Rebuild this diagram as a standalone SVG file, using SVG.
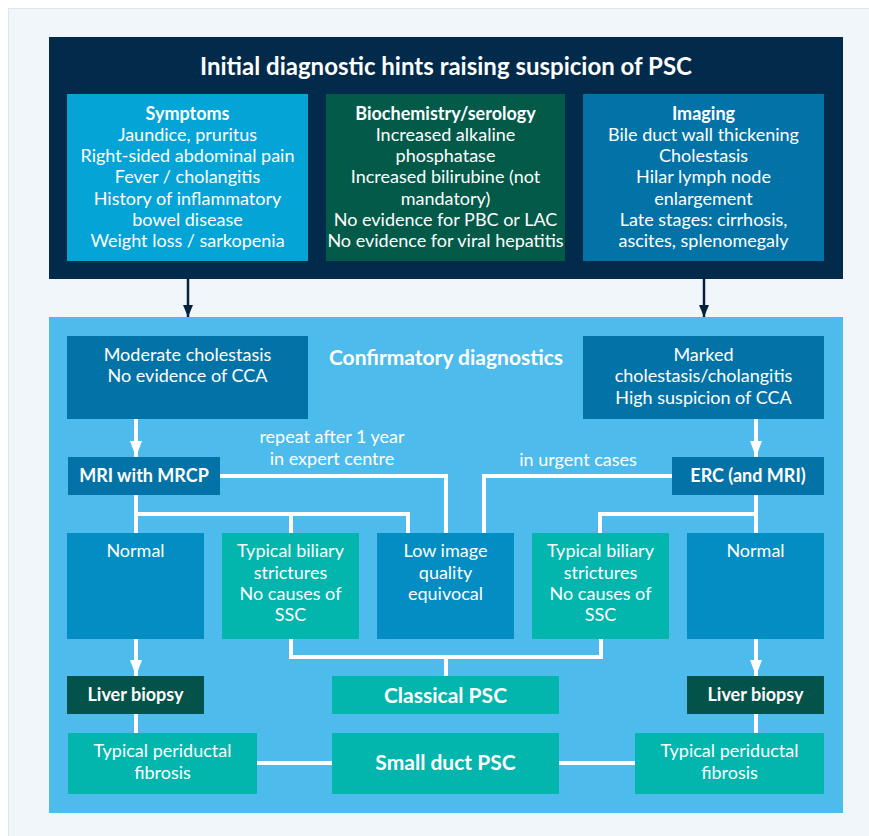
<svg xmlns="http://www.w3.org/2000/svg" width="869" height="836" viewBox="0 0 869 836">
<defs>
<style>
text{font-family:Lato,"Liberation Sans",sans-serif;fill:#fff;text-anchor:middle}
.t{font-size:18px}
.b{font-size:18px;font-weight:bold}
.h{font-size:21px;font-weight:bold}
.w{fill:none;stroke:#fff;stroke-width:4}
.n{fill:none;stroke:#04213f;stroke-width:2.5}
</style>
<marker id="aw" viewBox="0 0 16 12" refX="16" refY="6" markerWidth="16" markerHeight="12" markerUnits="userSpaceOnUse" orient="auto"><path d="M0,0L16,6L0,12z" fill="#fff"/></marker>
<marker id="an" viewBox="0 0 12 10" refX="12" refY="5" markerWidth="12" markerHeight="10" markerUnits="userSpaceOnUse" orient="auto"><path d="M0,0L12,5L0,10z" fill="#04213f"/></marker>
</defs>
<rect x="0" y="0" width="869" height="836" fill="#fff"/>
<rect x="8.5" y="8.5" width="870" height="840" fill="#f1f6fa" stroke="#dce6ef"/>
<g id="initial">
<rect x="49" y="37" width="794" height="242" fill="#022b4b"/>
<text x="446" y="75" style="font-size:24px;font-weight:bold">Initial diagnostic hints raising suspicion of PSC</text>
</g>
<g id="symptoms">
<rect x="67" y="94" width="241" height="167" fill="#04a4d7"/>
<text class="b" x="187.5" y="120">Symptoms</text>
<text class="t" x="187.5" y="141">Jaundice, pruritus</text>
<text class="t" x="187.5" y="162">Right-sided abdominal pain</text>
<text class="t" x="187.5" y="183">Fever / cholangitis</text>
<text class="t" x="187.5" y="205">History of inflammatory</text>
<text class="t" x="187.5" y="226">bowel disease</text>
<text class="t" x="187.5" y="247">Weight loss / sarkopenia</text>
</g>
<g id="biochem">
<rect x="326" y="94" width="239" height="167" fill="#035a49"/>
<text class="b" x="445.5" y="120">Biochemistry/serology</text>
<text class="t" x="445.5" y="141">Increased alkaline</text>
<text class="t" x="445.5" y="162">phosphatase</text>
<text class="t" x="445.5" y="183">Increased bilirubine (not</text>
<text class="t" x="445.5" y="205">mandatory)</text>
<text class="t" x="445.5" y="226">No evidence for PBC or LAC</text>
<text class="t" x="445.5" y="247">No evidence for viral hepatitis</text>
</g>
<g id="imaging">
<rect x="583" y="94" width="241" height="167" fill="#0373a7"/>
<text class="b" x="703.5" y="120">Imaging</text>
<text class="t" x="703.5" y="141">Bile duct wall thickening</text>
<text class="t" x="703.5" y="162">Cholestasis</text>
<text class="t" x="703.5" y="183">Hilar lymph node</text>
<text class="t" x="703.5" y="205">enlargement</text>
<text class="t" x="703.5" y="226">Late stages: cirrhosis,</text>
<text class="t" x="703.5" y="247">ascites, splenomegaly</text>
</g>
<g id="confirmatory">
<rect x="49" y="317" width="794" height="496" fill="#4dbbec"/>
<text class="h" x="446" y="365">Confirmatory diagnostics</text>
</g>
<g id="moderate">
<rect x="67" y="336" width="241" height="83" fill="#0373a7"/>
<text class="t" x="187.5" y="361">Moderate cholestasis</text>
<text class="t" x="187.5" y="382">No evidence of CCA</text>
</g>
<g id="marked">
<rect x="583" y="336" width="241" height="83" fill="#0373a7"/>
<text class="t" x="703.5" y="361">Marked</text>
<text class="t" x="703.5" y="382">cholestasis/cholangitis</text>
<text class="t" x="703.5" y="404">High suspicion of CCA</text>
</g>
<g id="mri">
<rect x="68" y="457" width="152" height="38" fill="#0373a7"/>
<text class="b" x="144" y="482">MRI with MRCP</text>
</g>
<g id="erc">
<rect x="672" y="457" width="152" height="38" fill="#0373a7"/>
<text class="b" x="748" y="482">ERC (and MRI)</text>
</g>
<g id="normal-left">
<rect x="67" y="533" width="137" height="106" fill="#038dc3"/>
<text class="t" x="135.5" y="557">Normal</text>
</g>
<g id="typical-left">
<rect x="222" y="533" width="137" height="106" fill="#02b6ad"/>
<text class="t" x="290.5" y="557">Typical biliary</text>
<text class="t" x="290.5" y="579">strictures</text>
<text class="t" x="290.5" y="600">No causes of</text>
<text class="t" x="290.5" y="621">SSC</text>
</g>
<g id="lowimage">
<rect x="377" y="533" width="137" height="106" fill="#038dc3"/>
<text class="t" x="445.5" y="557">Low image</text>
<text class="t" x="445.5" y="579">quality</text>
<text class="t" x="445.5" y="600">equivocal</text>
</g>
<g id="typical-right">
<rect x="532" y="533" width="137" height="106" fill="#02b6ad"/>
<text class="t" x="600.5" y="557">Typical biliary</text>
<text class="t" x="600.5" y="579">strictures</text>
<text class="t" x="600.5" y="600">No causes of</text>
<text class="t" x="600.5" y="621">SSC</text>
</g>
<g id="normal-right">
<rect x="687" y="533" width="137" height="106" fill="#038dc3"/>
<text class="t" x="755.5" y="557">Normal</text>
</g>
<g id="biopsy-left">
<rect x="67" y="676" width="137" height="38" fill="#03534a"/>
<text class="b" x="135.5" y="701">Liver biopsy</text>
</g>
<g id="biopsy-right">
<rect x="687" y="676" width="137" height="38" fill="#03534a"/>
<text class="b" x="755.5" y="701">Liver biopsy</text>
</g>
<g id="classical">
<rect x="332" y="676" width="227" height="38" fill="#02b6ad"/>
<text class="h" x="445.5" y="703">Classical PSC</text>
</g>
<g id="smallduct">
<rect x="332" y="733" width="227" height="61" fill="#02b6ad"/>
<text class="h" x="445.5" y="770">Small duct PSC</text>
</g>
<g id="periductal-left">
<rect x="68" y="733" width="189" height="61" fill="#02b6ad"/>
<text class="t" x="162.5" y="757">Typical periductal</text>
<text class="t" x="162.5" y="779">fibrosis</text>
</g>
<g id="periductal-right">
<rect x="635" y="733" width="189" height="61" fill="#02b6ad"/>
<text class="t" x="729.5" y="757">Typical periductal</text>
<text class="t" x="729.5" y="779">fibrosis</text>
</g>
<g id="connectors">
<path class="n" d="M188,279V317" marker-end="url(#an)"/>
<path class="n" d="M704,279V317" marker-end="url(#an)"/>
<path class="w" d="M136,419V457" marker-end="url(#aw)"/>
<path class="w" d="M756,419V457" marker-end="url(#aw)"/>
<path class="w" d="M220,476H446V533"/>
<path class="w" d="M672,476H484V533"/>
<path class="w" d="M136,495V533M136,514H408V533M291,514V533"/>
<path class="w" d="M756,495V533M756,514H600V533"/>
<path class="w" d="M291,639V657H601V639M446,657V676"/>
<path class="w" d="M136,639V676" marker-end="url(#aw)"/>
<path class="w" d="M756,639V676" marker-end="url(#aw)"/>
<path class="w" d="M136,714V733M756,714V733"/>
<path class="w" d="M257,763H332M559,763H635"/>
<text class="t" x="332" y="443">repeat after 1 year</text>
<text class="t" x="332" y="465">in expert centre</text>
<text class="t" x="578" y="466">in urgent cases</text>
</g>
</svg>
